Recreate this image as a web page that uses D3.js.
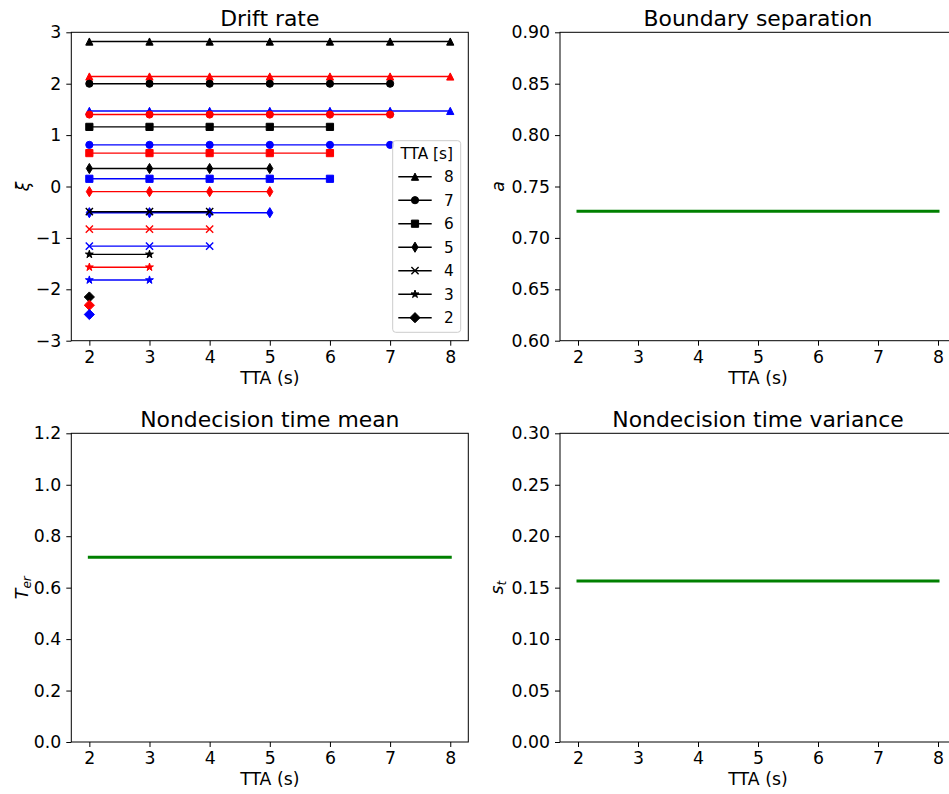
<!DOCTYPE html>
<html>
<head>
<meta charset="utf-8">
<script src="https://cdn.jsdelivr.net/npm/d3@7"></script>
<style>
  body { margin: 0; background: #fff; }
  svg { display: block; font-family: "DejaVu Sans", sans-serif; }
</style>
</head>
<body>
<svg id="chart" width="949" height="794"></svg>
<script>
// ---------------- data ----------------
const xValues = [2, 3, 4, 5, 6, 7, 8];
const ttaLevels = [8, 7, 6, 5, 4, 3, 2];
const ttaMarkers = ["triangle", "circle", "square", "thinDiamond", "x", "star", "diamond"];
const seriesColors = ["black", "red", "blue"];
const driftBlack = [2.82, 2.00, 1.16, 0.35, -0.49, -1.32, -2.15];
const driftRed   = [2.14, 1.40, 0.65, -0.10, -0.83, -1.57, -2.31];
const driftBlue  = [1.47, 0.81, 0.15, -0.51, -1.16, -1.82, -2.49];
const driftTicks = [-3, -2, -1, 0, 1, 2, 3];
const boundarySep = 0.726;
const boundaryTicks = [0.60, 0.65, 0.70, 0.75, 0.80, 0.85, 0.90];
const nondecMean = 0.718;
const nondecMeanTicks = [0.0, 0.2, 0.4, 0.6, 0.8, 1.0, 1.2];
const nondecVar = 0.1565;
const nondecVarTicks = [0.00, 0.05, 0.10, 0.15, 0.20, 0.25, 0.30];

// ---------------- layout ----------------
const svg = d3.select("#chart");
const FS = 17.3;   // tick / label font size
const TFS = 21.9;  // title font size
const panels = {
  drift: { x0: 71.3, x1: 468.3, y0: 32.3, y1: 340.7 },
  bound: { x0: 560,  x1: 956,   y0: 32.3, y1: 340.7 },
  mean:  { x0: 71.3, x1: 468.3, y0: 433.3, y1: 742 },
  vari:  { x0: 560,  x1: 956,   y0: 433.3, y1: 742 }
};

function markerPath(type, r) {
  switch (type) {
    case "triangle": return `M0,${-r}L${-r},${r}L${r},${r}Z`;
    case "circle": return `M${r},0A${r},${r} 0 1,1 ${-r},0A${r},${r} 0 1,1 ${r},0Z`;
    case "square": return `M${-r},${-r}H${r}V${r}H${-r}Z`;
    case "diamond": { const d = r * Math.SQRT2; return `M0,${-d}L${d},0L0,${d}L${-d},0Z`; }
    case "thinDiamond": { const d = r * Math.SQRT2; const w = d * 0.6; return `M0,${-d}L${w},0L0,${d}L${-w},0Z`; }
    case "x": return `M${-r},${-r}L${r},${r}M${-r},${r}L${r},${-r}`;
    case "star": {
      const R = r * 1.15, ri = R * 0.381966; let p = "";
      for (let i = 0; i < 10; i++) {
        const rr = i % 2 === 0 ? R : ri;
        const a = -Math.PI / 2 + i * Math.PI / 5;
        p += (i === 0 ? "M" : "L") + (rr * Math.cos(a)).toFixed(2) + "," + (rr * Math.sin(a)).toFixed(2);
      }
      return p + "Z";
    }
  }
}

function drawMarker(g, type, color, cx, cy) {
  const r = 3.6;
  const p = g.append("path").attr("d", markerPath(type, r))
    .attr("transform", `translate(${cx},${cy})`);
  if (type === "x") {
    p.attr("fill", "none").attr("stroke", color).attr("stroke-width", 1.4);
  } else {
    p.attr("fill", color).attr("stroke", color).attr("stroke-width", 1);
  }
}

function makePanel(p, yDomain, yTicks, yFmt, title, ylabelFn, ylabelX) {
  const x = d3.scaleLinear().domain([1.7, 8.3]).range([p.x0, p.x1]);
  const y = d3.scaleLinear().domain(yDomain).range([p.y1, p.y0]);
  const g = svg.append("g");

  const gx = g.append("g").attr("transform", `translate(0,${p.y1})`)
    .call(d3.axisBottom(x).tickValues(xValues).tickFormat(d3.format("d")).tickSize(5).tickPadding(5).tickSizeOuter(0));
  const gy = g.append("g").attr("transform", `translate(${p.x0},0)`)
    .call(d3.axisLeft(y).tickValues(yTicks).tickFormat(d3.format(yFmt)).tickSize(5).tickPadding(5).tickSizeOuter(0));
  [gx, gy].forEach(a => {
    a.select(".domain").remove();
    a.selectAll(".tick line").attr("stroke", "#000").attr("stroke-width", 1);
    a.selectAll(".tick text").attr("font-size", FS).attr("font-family", "DejaVu Sans").attr("fill", "#000");
  });

  g.append("rect").attr("x", p.x0).attr("y", p.y0)
    .attr("width", p.x1 - p.x0).attr("height", p.y1 - p.y0)
    .attr("fill", "none").attr("stroke", "#000").attr("stroke-width", 1);

  g.append("text").attr("x", (p.x0 + p.x1) / 2).attr("y", p.y0 - 6.6)
    .attr("text-anchor", "middle").attr("font-size", TFS).text(title);
  g.append("text").attr("x", (p.x0 + p.x1) / 2).attr("y", p.y1 + 43)
    .attr("text-anchor", "middle").attr("font-size", FS).text("TTA (s)");
  const yl = g.append("text")
    .attr("transform", `translate(${ylabelX},${(p.y0 + p.y1) / 2}) rotate(-90)`)
    .attr("text-anchor", "middle").attr("font-size", FS);
  ylabelFn(yl);
  return { g, x, y };
}

// ---------------- Panel 1: Drift rate ----------------
const P1 = makePanel(panels.drift, [-3, 3], driftTicks, "d", "Drift rate",
  t => t.append("tspan").attr("font-style", "italic").text("ξ"), 28.5);
const driftSeries = [driftBlack, driftRed, driftBlue];
const lineGen = d3.line().x(d => P1.x(d[0])).y(d => P1.y(d[1]));
ttaLevels.forEach((tta, i) => {
  seriesColors.forEach((col, c) => {
    const v = driftSeries[c][i];
    const pts = xValues.filter(xv => xv <= tta).map(xv => [xv, v]);
    if (pts.length > 1) {
      P1.g.append("path").attr("d", lineGen(pts)).attr("fill", "none")
        .attr("stroke", col).attr("stroke-width", 1.4);
    }
    pts.forEach(pt => drawMarker(P1.g, ttaMarkers[i], col, P1.x(pt[0]), P1.y(pt[1])));
  });
});

// legend
const lg = P1.g.append("g");
lg.append("rect").attr("x", 392.7).attr("y", 140.7).attr("width", 68).attr("height", 191.6)
  .attr("rx", 3).attr("fill", "#fff").attr("fill-opacity", 0.8)
  .attr("stroke", "#cccccc").attr("stroke-width", 1);
lg.append("text").attr("x", 426.7).attr("y", 159.3).attr("text-anchor", "middle")
  .attr("font-size", 15.3).text("TTA [s]");
ttaLevels.forEach((tta, i) => {
  const cy = 176.7 + i * 23.5;
  lg.append("line").attr("x1", 398.3).attr("x2", 431.7).attr("y1", cy).attr("y2", cy)
    .attr("stroke", "black").attr("stroke-width", 1.4);
  drawMarker(lg, ttaMarkers[i], "black", 415, cy);
  lg.append("text").attr("x", 444).attr("y", cy + 5.6).attr("font-size", 15.3).text(tta);
});

// ---------------- constant panels ----------------
function constLine(P, val) {
  P.g.append("line").attr("x1", P.x(xValues[0])).attr("x2", P.x(xValues[xValues.length - 1]))
    .attr("y1", P.y(val)).attr("y2", P.y(val))
    .attr("stroke", "green").attr("stroke-width", 3).attr("stroke-linecap", "square");
}

const P2 = makePanel(panels.bound, [0.6, 0.9], boundaryTicks, ".2f", "Boundary separation",
  t => t.append("tspan").attr("font-style", "italic").text("a"), 504);
constLine(P2, boundarySep);

const P3 = makePanel(panels.mean, [0, 1.2], nondecMeanTicks, ".1f", "Nondecision time mean",
  t => {
    t.append("tspan").attr("font-style", "italic").text("T");
    t.append("tspan").attr("font-style", "italic").attr("font-size", FS * 0.7)
      .attr("baseline-shift", "-25%").text("er");
  }, 27.5);
constLine(P3, nondecMean);

const P4 = makePanel(panels.vari, [0, 0.3], nondecVarTicks, ".2f", "Nondecision time variance",
  t => {
    t.append("tspan").attr("font-style", "italic").text("s");
    t.append("tspan").attr("font-style", "italic").attr("font-size", FS * 0.7)
      .attr("baseline-shift", "-25%").text("t");
  }, 503);
constLine(P4, nondecVar);
</script>
</body>
</html>
